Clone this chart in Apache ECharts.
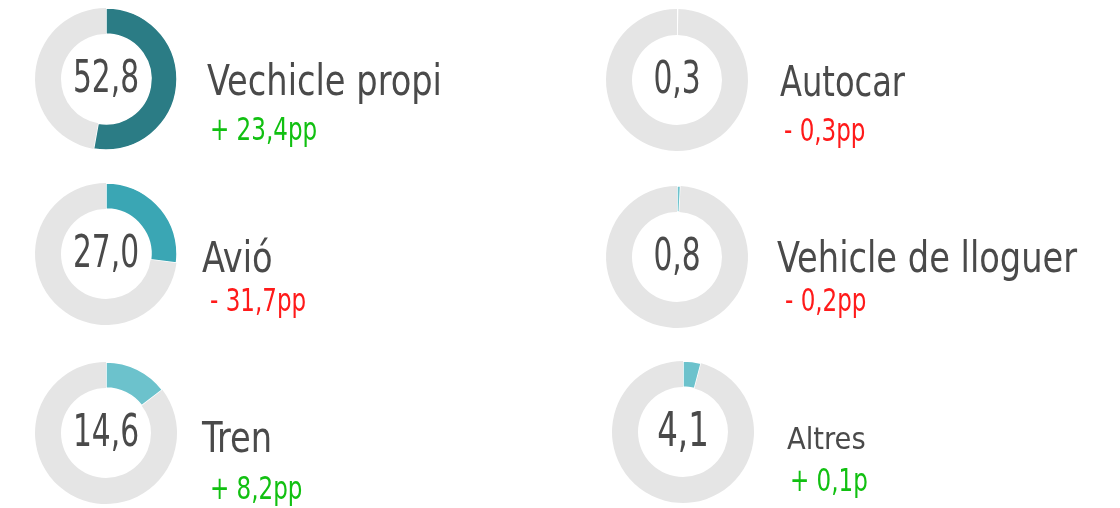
<!DOCTYPE html>
<html>
<head>
<meta charset="utf-8">
<script src="https://cdn.jsdelivr.net/npm/echarts@6/dist/echarts.min.js"></script>
<style>
  html, body { margin: 0; padding: 0; background: #fff; }
  #chart { width: 1120px; height: 508px; }
</style>
</head>
<body>
<div id="chart"></div>
<script>
// dades
const categories = ['Vechicle propi', 'Avió', 'Tren', 'Autocar', 'Vehicle de lloguer', 'Altres'];
const shares = [52.8, 27.0, 14.6, 0.3, 0.8, 4.1];
const changes = [23.4, -31.7, 8.2, -0.3, -0.2, 0.1];
const changeUnits = ['pp', 'pp', 'pp', 'pp', 'pp', 'p'];

// colors de l'arc
const arcColors = ['#2b7c85', '#3aa6b4', '#6cc2cc', '#6cc2cc', '#6cc2cc', '#6cc2cc'];
const trackColor = '#e5e5e5';
const FONT = "'DejaVu Sans Condensed', 'DejaVu Sans', sans-serif";
// la font original és més estreta: comprimim horitzontalment
const SUB_SCALE = 0.8;
const VALUE_SCALE = 0.75;

// posicions de cada gràfic (centre del donut, títol, variació)
const layout = [
  { cx: 106, cy: 79,  tx: 207, ty: 84,  sx: 210, sy: 132, titleSize: 43, titleScale: 0.87, valueSize: 44 },
  { cx: 106, cy: 254, tx: 202, ty: 261, sx: 210, sy: 303, titleSize: 43, titleScale: 0.87, valueSize: 44 },
  { cx: 106, cy: 433, tx: 202, ty: 441, sx: 210, sy: 491, titleSize: 43, titleScale: 0.87, valueSize: 44 },
  { cx: 677, cy: 80,  tx: 780, ty: 85,  sx: 784, sy: 133, titleSize: 43, titleScale: 0.83, valueSize: 44 },
  { cx: 677, cy: 257, tx: 777, ty: 261, sx: 785, sy: 303, titleSize: 43, titleScale: 0.87, valueSize: 44 },
  { cx: 683, cy: 432, tx: 787, ty: 441, sx: 790, sy: 483, titleSize: 31, titleScale: 0.98, valueSize: 48 }
];

const fmt = v => Math.abs(v).toFixed(1).replace('.', ',');

const chart = echarts.init(document.getElementById('chart'));

const series = shares.map((v, i) => ({
  type: 'pie',
  center: [layout[i].cx, layout[i].cy],
  radius: [45, 71],
  startAngle: 90,
  clockwise: true,
  silent: true,
  animation: false,
  label: { show: false },
  labelLine: { show: false },
  emphasis: { disabled: true },
  itemStyle: { borderColor: '#ffffff', borderWidth: 1.5 },
  data: [
    { value: v, name: categories[i], itemStyle: { color: arcColors[i] } },
    { value: 100 - v, name: 'resta', itemStyle: { color: trackColor, borderWidth: 0 } }
  ]
}));

const graphics = [];
categories.forEach((name, i) => {
  const l = layout[i];
  // valor al centre del donut
  graphics.push({
    type: 'text',
    x: l.cx,
    y: l.cy + 2,
    scaleX: VALUE_SCALE,
    silent: true,
    z: 10,
    style: {
      text: fmt(shares[i]),
      fill: '#4a4a4a',
      font: l.valueSize + 'px ' + FONT,
      align: 'center',
      verticalAlign: 'middle'
    }
  });
  graphics.push({
    type: 'text',
    x: l.tx,
    y: l.ty,
    scaleX: l.titleScale,
    silent: true,
    style: {
      text: name,
      fill: '#4a4a4a',
      font: l.titleSize + 'px ' + FONT,
      align: 'left',
      verticalAlign: 'middle'
    }
  });
  const c = changes[i];
  graphics.push({
    type: 'text',
    x: l.sx,
    y: l.sy,
    scaleX: SUB_SCALE,
    silent: true,
    style: {
      text: (c >= 0 ? '+ ' : '- ') + fmt(c) + changeUnits[i],
      fill: c >= 0 ? '#11c011' : '#ff1a1a',
      font: '32px ' + FONT,
      align: 'left',
      verticalAlign: 'middle'
    }
  });
});

chart.setOption({
  backgroundColor: '#ffffff',
  animation: false,
  series: series,
  graphic: graphics
});
</script>
</body>
</html>
